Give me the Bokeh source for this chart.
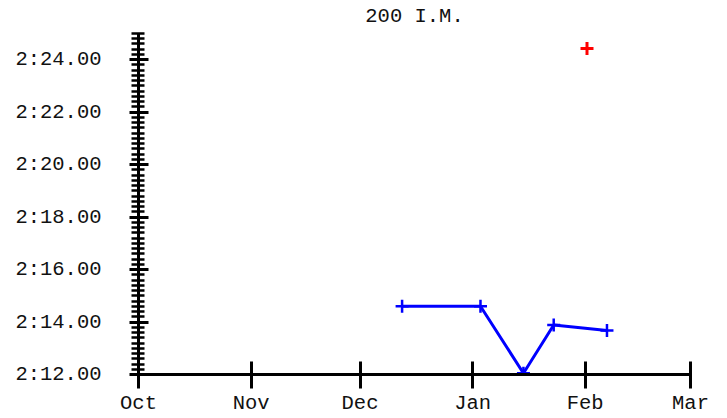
from datetime import datetime
from bokeh.plotting import figure
from bokeh.models import (Range1d, SingleIntervalTicker, MonthsTicker,
                          DatetimeTickFormatter, CustomJSTickFormatter, ColumnDataSource)
from bokeh.embed import file_html
from bokeh.resources import INLINE

# ---- data ----
title_text = "200 I.M."
swim_dates = ["2011-12-12 14:00", "2012-01-03 04:00", "2012-01-15 00:00",
              "2012-01-23 08:00", "2012-02-07 00:00"]
swim_times = ["2:14.60", "2:14.60", "2:12.05", "2:13.89", "2:13.68"]
goal_dates = ["2012-02-01 12:00"]
goal_times = ["2:24.43"]
x_start, x_end = "2011-10-01", "2012-03-01"
y_min_time, y_max_time = "2:12.00", "2:25.00"


def to_sec(t):
    m, s = t.split(":")
    return int(m) * 60 + float(s)


def to_dt(d):
    return datetime.fromisoformat(d)


swim_src = ColumnDataSource(dict(x=[to_dt(d) for d in swim_dates],
                                 y=[to_sec(t) for t in swim_times]))
goal_src = ColumnDataSource(dict(x=[to_dt(d) for d in goal_dates],
                                 y=[to_sec(t) for t in goal_times]))

FONT = "Liberation Mono"
FS = "20.5px"

p = figure(frame_width=552, frame_height=341, x_axis_type="datetime",
           output_backend="svg", toolbar_location=None,
           x_range=Range1d(to_dt(x_start), to_dt(x_end)),
           y_range=Range1d(to_sec(y_min_time), to_sec(y_max_time)),
           min_border_left=138, min_border_right=29,
           min_border_top=33, min_border_bottom=36)

p.title.text = title_text
p.title.align = "center"
p.title.text_font = FONT
p.title.text_font_size = FS
p.title.text_font_style = "normal"
p.title.text_color = "#111111"
p.title.standoff = 8
p.title.vertical_align = "top"

p.outline_line_color = None
p.xgrid.grid_line_color = None
p.ygrid.grid_line_color = None
p.background_fill_color = "white"
p.border_fill_color = "white"

# x axis
xa = p.xaxis[0]
xa.ticker = MonthsTicker(months=list(range(12)))
xa.formatter = DatetimeTickFormatter(months="%b", days="%b", years="%b")
xa.axis_line_width = 3
xa.axis_line_color = "black"
xa.major_tick_line_width = 3
xa.major_tick_line_color = "black"
xa.major_tick_in = 13
xa.major_tick_out = 14
xa.minor_tick_line_color = None
xa.major_label_text_font = FONT
xa.major_label_text_font_size = FS
xa.major_label_text_color = "#111111"
xa.major_label_standoff = 3

# y axis
ya = p.yaxis[0]
ya.ticker = SingleIntervalTicker(interval=2, num_minor_ticks=10)
ya.formatter = CustomJSTickFormatter(code="""
const m = Math.floor(tick / 60 + 1e-9);
const s = tick - 60 * m;
return m + ':' + (s < 10 ? '0' : '') + s.toFixed(2);
""")
ya.axis_line_width = 3
ya.axis_line_color = "black"
ya.major_tick_line_width = 3
ya.major_tick_line_color = "black"
ya.major_tick_in = 10
ya.major_tick_out = 9
ya.minor_tick_line_width = 2.5
ya.minor_tick_line_color = "black"
ya.minor_tick_in = 6
ya.minor_tick_out = 7
ya.major_label_text_font = FONT
ya.major_label_text_font_size = FS
ya.major_label_text_color = "#111111"
ya.major_label_standoff = 28

# series
p.line("x", "y", source=swim_src, line_color="#0000ff", line_width=3)
p.scatter("x", "y", source=swim_src, marker="cross", size=13,
          line_color="#0000ff", line_width=2.5)
p.scatter("x", "y", source=goal_src, marker="cross", size=13,
          line_color="#ff0000", line_width=3)

open("out.html", "w").write(file_html(p, INLINE))
